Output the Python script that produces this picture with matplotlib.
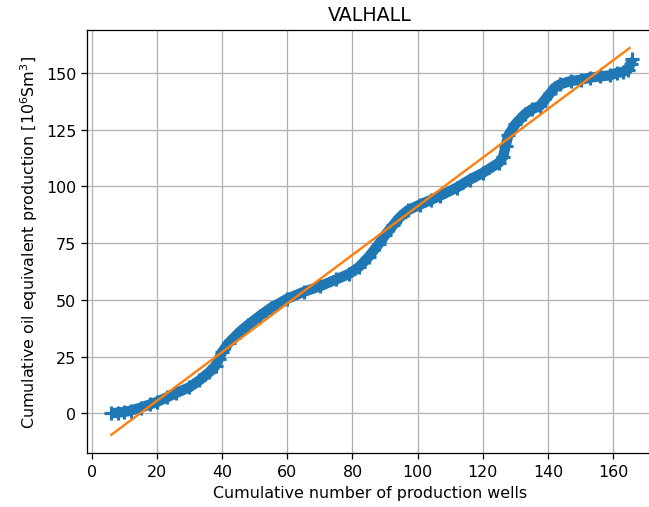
import numpy as np
import matplotlib
matplotlib.use("Agg")
import matplotlib.pyplot as plt

# cumulative wells vs cumulative oe production
wells = [6, 8, 10, 12, 15, 18, 20, 23, 26, 30, 33, 36, 38, 39, 40, 42, 45.5, 48,
         51.6, 55, 60, 65, 70, 75, 79, 82, 85, 88, 90, 92.5, 94.6, 97, 100.7,
         104, 107, 112, 116, 120, 125, 126.2, 127, 127.8, 130, 133, 135, 137.5,
         140.6, 142, 143.6, 147, 150, 153, 156, 159, 161, 163, 164.5, 165.3, 165.7]
prod = [0, 0.3, 0.6, 1.2, 2.5, 4, 5, 7, 9, 11.5, 14.5, 18, 21, 24, 27, 31, 36, 39,
        43, 46.5, 50.5, 53.5, 56, 59, 61.5, 64.5, 69, 74.5, 78.5, 83, 86.5, 89.5, 92,
        94, 96, 99.5, 103, 106, 110.5, 113, 118, 122.5, 127.5, 132, 134, 135.5,
        141, 143.5, 145, 146.5, 147, 148, 148.5, 149, 150, 150.5, 151.5, 154, 156]

# linear fit shown in orange
fit_x = [6, 165]
fit_y = [-9.5, 161]

DPI = 114
fig = plt.figure(figsize=(649 / DPI, 508 / DPI), dpi=DPI)
ax = fig.add_axes([87.3 / 649, 54 / 508, 565.4 / 649, 423.3 / 508])
ax.plot(wells, prod, '-', color='C0', lw=6.5, solid_capstyle='butt')
ax.plot(wells, prod, '+', color='C0', ms=9, mew=2)
ax.plot(fit_x, fit_y, color='C1', lw=1.5)
ax.set_xlim(-1.35, 172.1)
ax.set_ylim(-17.5, 169.1)
ax.set_xticks(np.arange(0, 161, 20))
ax.set_yticks(np.arange(0, 151, 25))
ax.grid(True)
ax.set_title("VALHALL")
ax.set_xlabel("Cumulative number of production wells")
ax.set_ylabel("Cumulative oil equivalent production [$10^6$Sm$^3$]")
fig.savefig("out.png", dpi=DPI)
